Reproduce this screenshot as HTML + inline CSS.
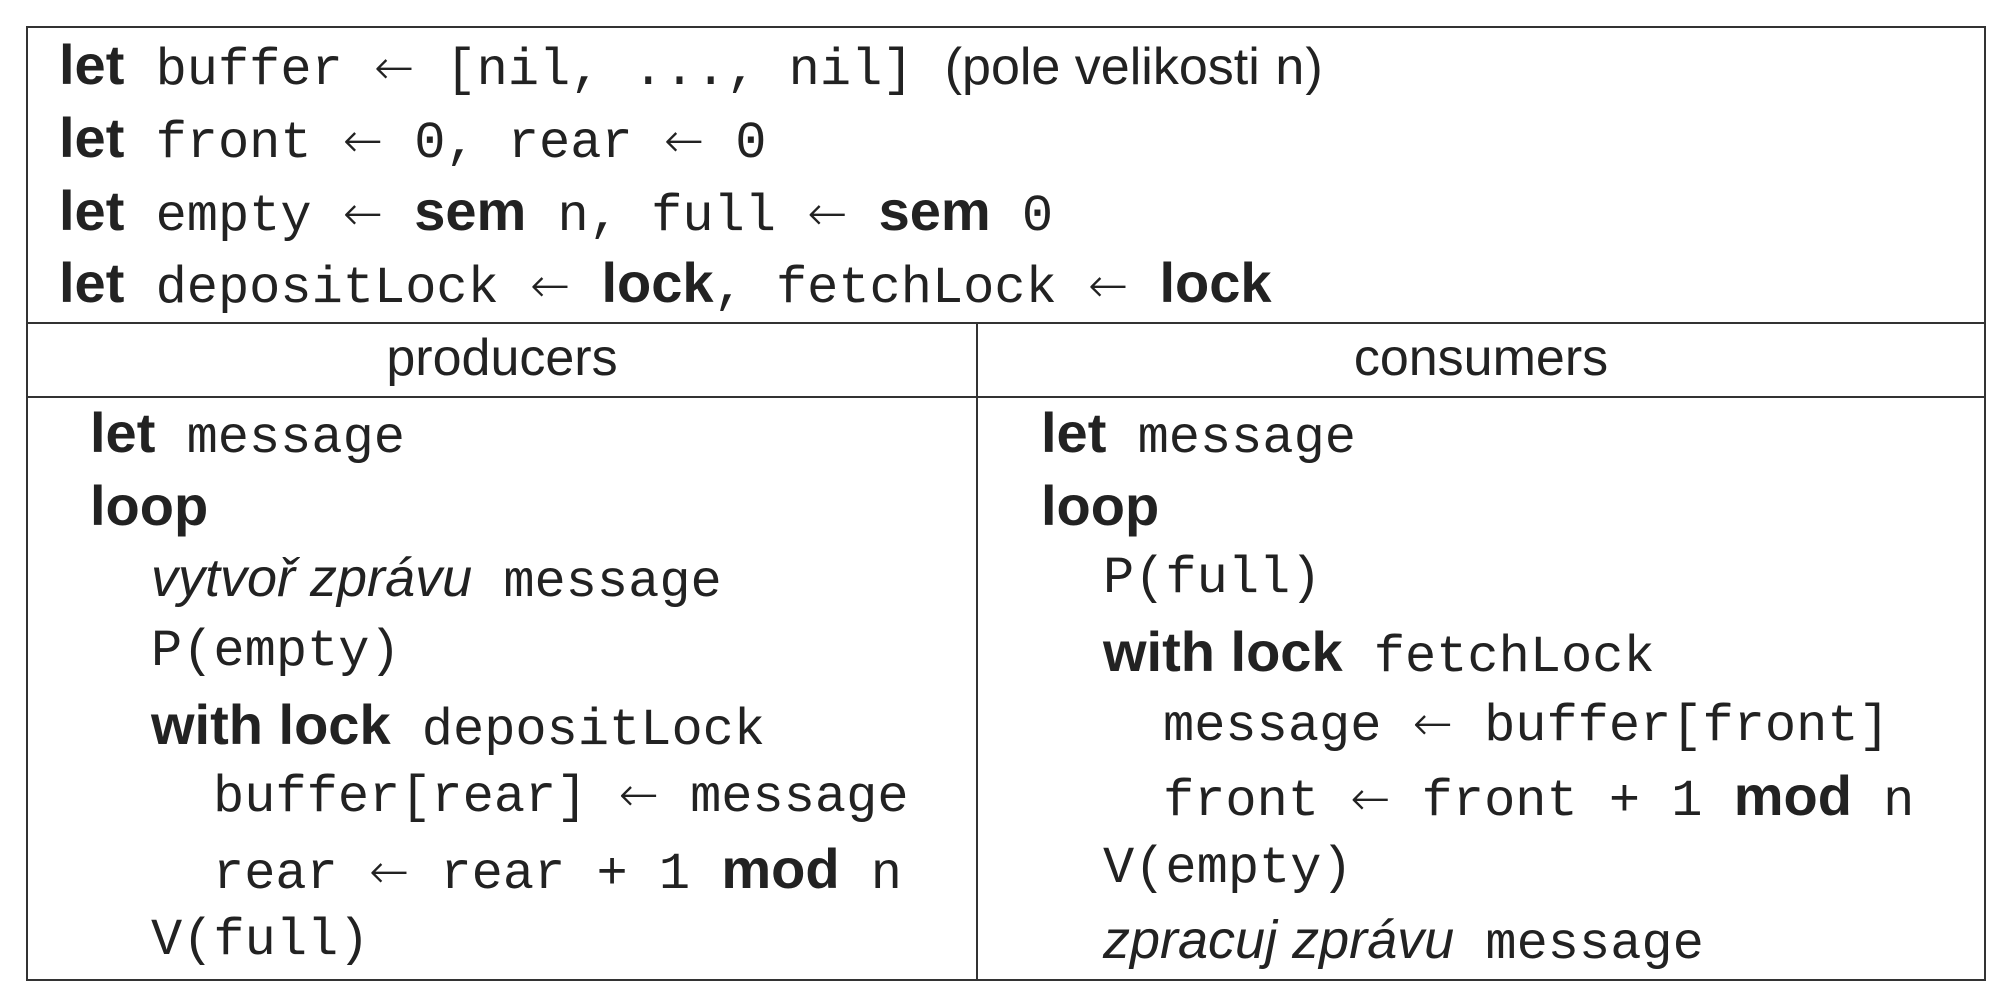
<!DOCTYPE html>
<html><head><meta charset="utf-8"><style>
body{margin:0;width:2008px;height:1006px;background:#fff;position:relative;overflow:hidden;color:#222}
.b{position:absolute;background:#333}
.l{position:absolute;height:73px;line-height:73px;white-space:pre;font-family:"Liberation Mono",monospace;font-size:52px;}
.s{font-family:"Liberation Sans",sans-serif;font-weight:bold;font-size:56px;}
.i{font-family:"Liberation Sans",sans-serif;font-style:italic;font-size:54px;}
.r{font-family:"Liberation Sans",sans-serif;font-size:52px}
.a{font-family:"DejaVu Sans",sans-serif;font-size:48px;font-weight:200}
.h{position:absolute;height:73px;line-height:73px;font-family:"Liberation Sans",sans-serif;font-size:52px;text-align:center}
</style></head><body>
<div class="b" style="left:26px;top:26px;width:1960px;height:2px"></div>
<div class="b" style="left:26px;top:979px;width:1960px;height:2px"></div>
<div class="b" style="left:26px;top:26px;width:2px;height:955px"></div>
<div class="b" style="left:1984px;top:26px;width:2px;height:955px"></div>
<div class="b" style="left:26px;top:322px;width:1960px;height:2px"></div>
<div class="b" style="left:26px;top:396px;width:1960px;height:2px"></div>
<div class="b" style="left:976px;top:322px;width:2px;height:659px"></div>

<div class="l" style="left:59px;top:28px"><span class="s">let</span> buffer <span class="a">←</span> [nil, ..., nil] <span class="r">(pole velikosti </span>n<span class="r">)</span></div>
<div class="l" style="left:59px;top:101px"><span class="s">let</span> front <span class="a">←</span> 0, rear <span class="a">←</span> 0</div>
<div class="l" style="left:59px;top:174px"><span class="s">let</span> empty <span class="a">←</span> <span class="s">sem</span> n, full <span class="a">←</span> <span class="s">sem</span> 0</div>
<div class="l" style="left:59px;top:246px"><span class="s">let</span> depositLock <span class="a">←</span> <span class="s">lock</span>, fetchLock <span class="a">←</span> <span class="s">lock</span></div>

<div class="h" style="left:28px;width:948px;top:322px">producers</div>
<div class="h" style="left:978px;width:1006px;top:322px">consumers</div>

<div class="l" style="left:90px;top:396px"><span class="s">let</span> message</div>
<div class="l" style="left:90px;top:469px"><span class="s">loop</span></div>
<div class="l" style="left:151px;top:542px"><span class="i">vytvoř zprávu</span> message</div>
<div class="l" style="left:151px;top:615px">P(empty)</div>
<div class="l" style="left:151px;top:688px"><span class="s">with lock</span> depositLock</div>
<div class="l" style="left:213px;top:759px">buffer[rear] <span class="a">←</span> message</div>
<div class="l" style="left:213px;top:832px">rear <span class="a">←</span> rear + 1 <span class="s">mod</span> n</div>
<div class="l" style="left:151px;top:904px">V(full)</div>

<div class="l" style="left:1041px;top:396px"><span class="s">let</span> message</div>
<div class="l" style="left:1041px;top:469px"><span class="s">loop</span></div>
<div class="l" style="left:1103px;top:542px">P(full)</div>
<div class="l" style="left:1103px;top:615px"><span class="s">with lock</span> fetchLock</div>
<div class="l" style="left:1163px;top:688px">message <span class="a">←</span> buffer[front]</div>
<div class="l" style="left:1163px;top:759px">front <span class="a">←</span> front + 1 <span class="s">mod</span> n</div>
<div class="l" style="left:1103px;top:832px">V(empty)</div>
<div class="l" style="left:1103px;top:904px"><span class="i">zpracuj zprávu</span> message</div>
</body></html>
